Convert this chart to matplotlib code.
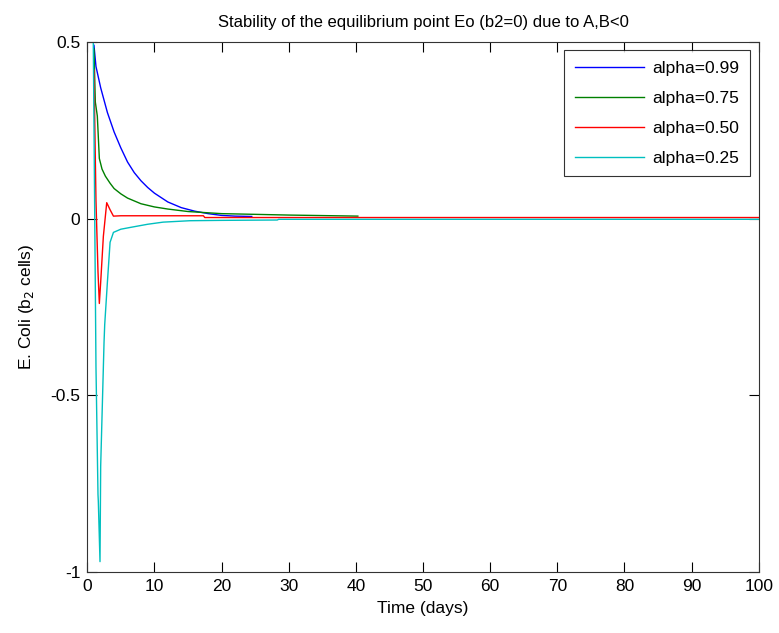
import matplotlib.pyplot as plt

plt.rcParams['font.family'] = ['Liberation Sans', 'DejaVu Sans']

t_099 = [1.0, 1.3, 2, 3, 4, 5, 6, 7, 8, 9, 10, 12, 14, 16, 18, 20, 22, 24.5]
b_099 = [0.49, 0.43, 0.37, 0.30, 0.245, 0.20, 0.16, 0.13, 0.107, 0.088, 0.072,
         0.047, 0.031, 0.021, 0.014, 0.009, 0.007, 0.006]

t_075 = [1.0, 1.2, 1.5, 1.8, 2.2, 2.7, 3.4, 4, 5, 6, 8, 10, 12, 15, 20, 25, 30, 40.3]
b_075 = [0.48, 0.33, 0.29, 0.17, 0.14, 0.12, 0.10, 0.085, 0.07, 0.058, 0.042,
         0.033, 0.027, 0.02, 0.014, 0.012, 0.01, 0.007]

t_050 = [1.0, 1.3, 1.6, 1.8, 2.0, 2.4, 2.9, 3.4, 3.9, 5, 10, 17.3, 17.5, 100]
b_050 = [0.42, 0.05, -0.15, -0.24, -0.18, -0.05, 0.045, 0.025, 0.007, 0.008,
         0.008, 0.008, 0.003, 0.003]

t_025 = [0.9, 1.3, 1.6, 1.65, 1.9, 2.0, 2.5, 2.6, 3.0, 3.4, 3.9, 5, 6.4, 9,
         11.3, 15.3, 20, 28.3, 28.5, 100]
b_025 = [0.50, -0.42, -0.78, -0.80, -0.97, -0.70, -0.35, -0.30, -0.18, -0.067,
         -0.039, -0.03, -0.025, -0.016, -0.01, -0.006, -0.005, -0.004, -0.002, -0.002]

labels = ['alpha=0.99', 'alpha=0.75', 'alpha=0.50', 'alpha=0.25']
colors = ['#0000ff', '#008000', '#ff0000', '#00bfbf']

fig = plt.figure(figsize=(7.79, 6.33), dpi=100)
ax = fig.add_axes([0.112, 0.096, 0.862, 0.838])

series = [(t_099, b_099), (t_075, b_075), (t_050, b_050), (t_025, b_025)]
for (t, b), lab, c in zip(series, labels, colors):
    ax.plot(t, b, color=c, lw=1.0, label=lab)

ax.set_xlim(0, 100)
ax.set_ylim(-1, 0.5)
ax.set_xticks(range(0, 101, 10))
ax.set_yticks([-1, -0.5, 0, 0.5])
ax.set_yticklabels(['-1', '-0.5', '0', '0.5'])
ax.tick_params(direction='in', top=True, right=True, length=7, labelsize=12.5, pad=5)
for s in ax.spines.values():
    s.set_color('#333333')

ax.set_title('Stability of the equilibrium point Eo (b2=0) due to A,B<0', fontsize=12, pad=11)
ax.set_xlabel('Time (days)', fontsize=12.5, labelpad=5)
ax.set_ylabel('E. Coli (b$_2$ cells)', fontsize=12.5, labelpad=10)

leg = ax.legend(loc='upper right', fontsize=12.5, frameon=True, fancybox=False,
                edgecolor='black', handlelength=4.0, borderaxespad=0.5,
                labelspacing=0.85, handletextpad=0.5, borderpad=0.6)
leg.get_frame().set_linewidth(0.8)

fig.savefig('out.png')
